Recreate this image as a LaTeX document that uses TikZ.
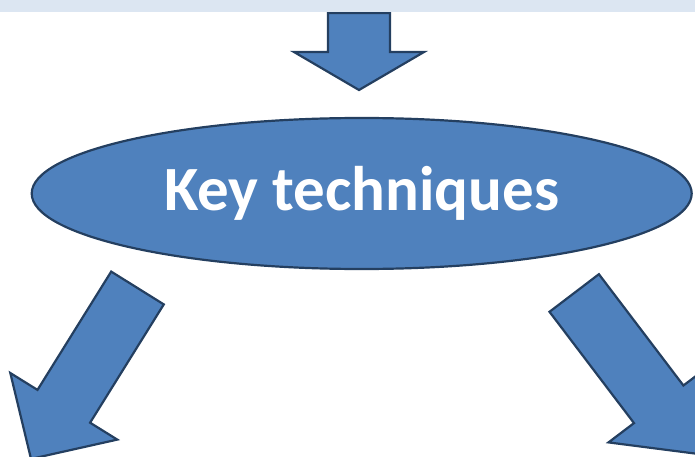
\documentclass[tikz,border=0pt]{standalone}
\usepackage{fontspec}
\setmainfont{Carlito}
\usetikzlibrary{shapes.geometric}

\definecolor{shapeblue}{HTML}{4F81BD}
\definecolor{shapeline}{HTML}{243F60}
\definecolor{bandgray}{HTML}{DCE6F2}

\begin{document}
\begin{tikzpicture}[x=1pt, y=-1pt,
	bubble/.style={ellipse, draw=shapeline, fill=shapeblue, line width=2.2pt, text=white, font=\fontsize{63}{64}\selectfont\bfseries, minimum width=660pt, minimum height=151pt, inner sep=0pt},
	blockarrow/.style={draw=shapeline, fill=shapeblue, line width=2.2pt, line join=miter}]

		\useasboundingbox (0,0) rectangle (695,457);
		\clip (0,0) rectangle (695,457);

		% incoming arrow from the band above
		\draw[blockarrow] (328,13) -- (390,13) -- (390,52) -- (424,52) -- (359,90) -- (294,52) -- (328,52) -- cycle;
		\fill[bandgray] (0,0) rectangle (695,12.5);

		\node[bubble] (keytech) at (361.7,193.5) {Key techniques};

		% the two branches going down
		\draw[blockarrow] (111.2,271.6) -- (163.8,304.4) -- (90.1,422.7) -- (117.3,439.6) -- (31,458.9) -- (10.3,373) -- (37.5,389.9) -- cycle;
		\draw[blockarrow] (598.9,274.2) -- (549.5,311.8) -- (634,423.1) -- (608.5,442.4) -- (696.2,453.7) -- (708.9,366.2) -- (683.4,385.5) -- cycle;

\end{tikzpicture}
\end{document}
